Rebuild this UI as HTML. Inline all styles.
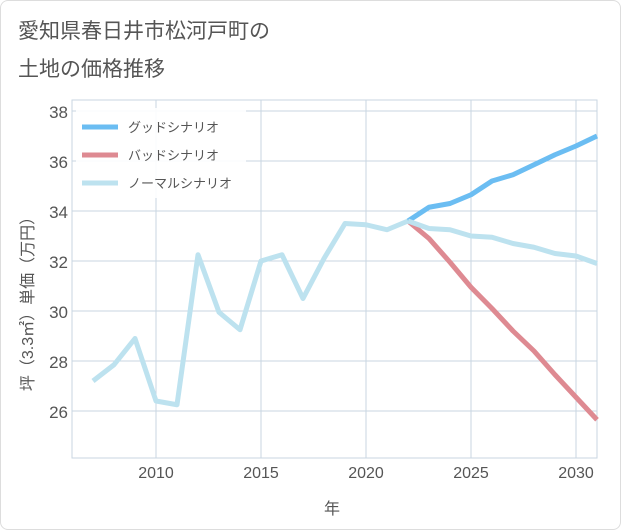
<!DOCTYPE html>
<html><head><meta charset="utf-8"><style>
body{margin:0;background:#fff;font-family:"Liberation Sans","Noto Sans CJK JP",sans-serif;}
#card{position:absolute;left:0;top:0;width:619px;height:528px;border:1px solid #ddd;border-radius:8px;background:#fff;}
</style></head><body>
<div id="card"></div>
<svg id="chart" width="621" height="530" style="position:absolute;left:0;top:0">
<text x="18" y="38" font-size="21" fill="#555">愛知県春日井市松河戸町の</text>
<text x="18" y="76" font-size="21" fill="#555">土地の価格推移</text>
<g id="grid"></g><g id="series"></g><g id="axes"></g>
<text x="332" y="514" font-size="16" fill="#555" text-anchor="middle">年</text>
<text transform="translate(33,300) rotate(-90)" font-size="16" fill="#555" text-anchor="middle">坪（3.3㎡）単価（万円）</text>
<g>
<rect x="76" y="108" width="170" height="90" fill="#fff" opacity="0.9"/>
<line x1="82" y1="127" x2="118" y2="127" stroke="#6bbdf2" stroke-width="5"/>
<text x="128" y="132" font-size="13" fill="#555">グッドシナリオ</text>
<line x1="82" y1="155" x2="118" y2="155" stroke="#de8a92" stroke-width="5"/>
<text x="128" y="160" font-size="13" fill="#555">バッドシナリオ</text>
<line x1="82" y1="183" x2="118" y2="183" stroke="#bde2ef" stroke-width="5"/>
<text x="128" y="188" font-size="13" fill="#555">ノーマルシナリオ</text>
</g>
</svg>
<script>
const histYears=[2007,2008,2009,2010,2011,2012,2013,2014,2015,2016,2017,2018,2019,2020,2021,2022];
const histValues=[27.2,27.85,28.9,26.4,26.25,32.25,29.95,29.25,32.0,32.25,30.5,32.1,33.5,33.45,33.25,33.6];
const futYears=[2022,2023,2024,2025,2026,2027,2028,2029,2030,2031];
const goodValues=[33.6,34.15,34.3,34.65,35.2,35.45,35.85,36.25,36.6,37.0];
const badValues=[33.6,32.9,31.95,30.95,30.1,29.2,28.4,27.45,26.55,25.65];
const normalValues=[33.6,33.3,33.25,33.0,32.95,32.7,32.55,32.3,32.2,31.9];
const xTicks=[2010,2015,2020,2025,2030];
const yTicks=[26,28,30,32,34,36,38];
const L=72,R=597,T=100,B=458;
const x=y=>L+(y-2006)*21;
const yv=v=>111+(38-v)*25;
const NS="http://www.w3.org/2000/svg";
function mk(tag,attrs,parent){const e=document.createElementNS(NS,tag);for(const k in attrs)e.setAttribute(k,attrs[k]);document.getElementById(parent).appendChild(e);return e;}
mk('rect',{x:L,y:T,width:R-L,height:B-T,fill:'none',stroke:'#c8d6e2'},'grid');
for(const t of yTicks){
 const l=mk('line',{x1:L,x2:R,y1:yv(t),y2:yv(t),stroke:'#c8d6e2'},'grid');
 
 
 const tx=mk('text',{x:L-4,y:yv(t)+7,'font-size':17,fill:'#555','text-anchor':'end'},'axes');tx.textContent=t;
 
 
}
for(let yr=2007;yr<=2030;yr++){ if(yr%5)continue; }
for(const t of xTicks){
 const l=mk('line',{y1:T,y2:B,x1:x(t),x2:x(t),stroke:'#c8d6e2'},'grid');
 
 
 const tx=mk('text',{x:x(t),y:B+20,'font-size':16,fill:'#555','text-anchor':'middle'},'axes');tx.textContent=t;
 
 
}
function line(xs,vs,color,name){
 const p=mk('polyline',{points:xs.map((a,i)=>x(a)+','+yv(vs[i])).join(' '),fill:'none',stroke:color,'stroke-width':5,'stroke-linejoin':'round'},'series');
 
 
}
line(futYears,badValues,'#de8a92','bad-scenario-line');
line(futYears,goodValues,'#6bbdf2','good-scenario-line');
line(futYears,normalValues,'#bde2ef','normal-scenario-line');
line(histYears,histValues,'#bde2ef','historical-price-line');
</script>
</body></html>
